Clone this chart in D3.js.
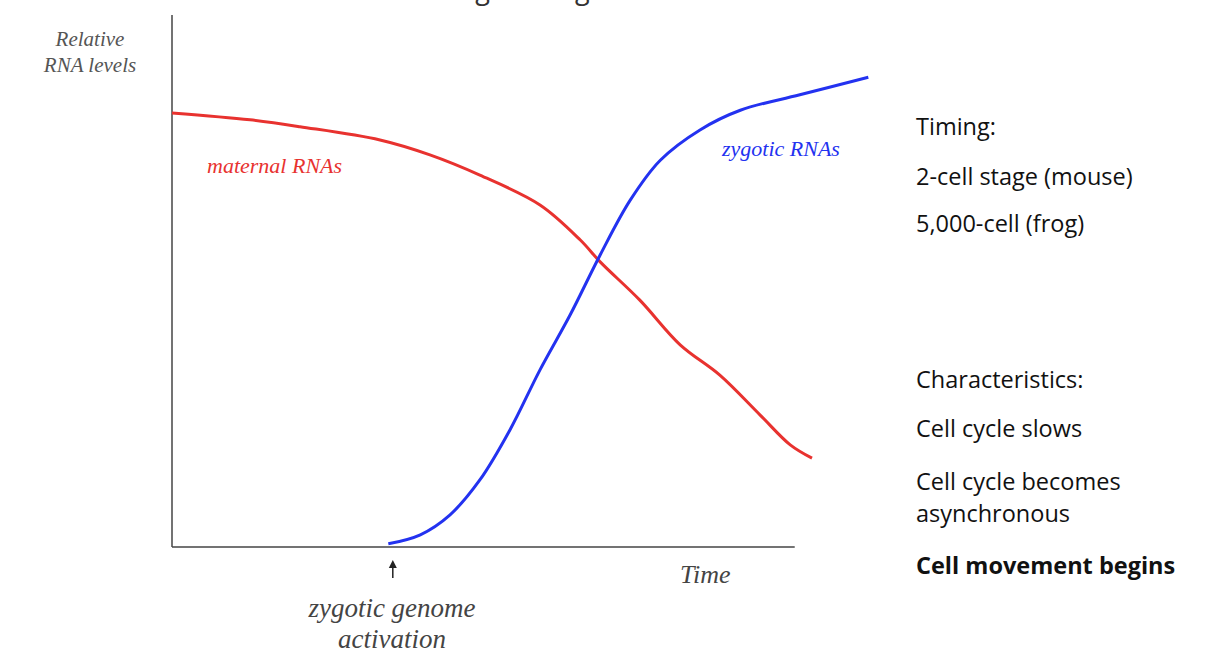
<!DOCTYPE html><html><head><meta charset="utf-8"><script src="https://d3js.org/d3.v7.min.js"></script>
<style>body{margin:0;background:#fff}</style></head><body><svg id="c" width="1215" height="664"></svg>
<script>
const maternalT=[0,1.22,2.0,3.25,4.03,4.81,5.75,6.38,6.69,7.31,7.94,8.56,9.19,9.66,10.0];
const maternalV=[81.6,80.3,79.0,76.5,73.7,69.9,64.3,57.7,53.6,46.4,38.0,32.3,24.8,19.2,16.7];
const zygoticT=[3.38,3.88,4.34,4.81,5.28,5.75,6.22,6.69,7.16,7.63,8.25,8.88,9.81,10.88];
const zygoticV=[0.6,2.3,6.0,12.6,22.0,33.3,43.6,54.9,65.2,72.7,78.4,82.1,85.0,88.3];
const sideLines=[["Timing:",135,400],["2-cell stage (mouse)",185,400],["5,000-cell (frog)",232,400],["Characteristics:",388,400],["Cell cycle slows",437,400],["Cell cycle becomes",490,400],["asynchronous",522,400],["Cell movement begins",574,700]];
const svg=d3.select("#c");
const x=d3.scaleLinear().domain([0,10]).range([172,812]);
const y=d3.scaleLinear().domain([0,100]).range([547,15]);
const serif="'Liberation Serif','DejaVu Serif',serif";
svg.append("text").attr("x",265).attr("y",-1).attr("font-family","'Open Sans',sans-serif").attr("font-size",27).attr("fill","#333").text("de novo – starting over again");
svg.append("line").attr("x1",x(0)).attr("x2",x(0)).attr("y1",y(100)).attr("y2",y(0)).attr("stroke","#444").attr("stroke-width",1.5);
svg.append("line").attr("x1",x(0)).attr("x2",x(9.73)).attr("y1",y(0)).attr("y2",y(0)).attr("stroke","#444").attr("stroke-width",1.5);
const line=d3.line().x(d=>x(d[0])).y(d=>y(d[1])).curve(d3.curveCatmullRom);
svg.append("path").attr("d",line(d3.zip(maternalT,maternalV))).attr("fill","none").attr("stroke","#e8322f").attr("stroke-width",3);
svg.append("path").attr("d",line(d3.zip(zygoticT,zygoticV))).attr("fill","none").attr("stroke","#2332f0").attr("stroke-width",3);
const it=(t,xx,yy,s,c,a)=>svg.append("text").attr("x",xx).attr("y",yy).attr("font-family",serif).attr("font-style","italic").attr("font-size",s).attr("fill",c).attr("text-anchor",a||"start").text(t);
it("Relative",90,46,21,"#555","middle");it("RNA levels",90,72,21,"#555","middle");
it("maternal RNAs",207,173,22,"#e8322f");it("zygotic RNAs",722,156,22,"#2332f0");
it("Time",680,583,26,"#444");
it("zygotic genome",392,617,27,"#444","middle");it("activation",392,648,27,"#444","middle");
const ax=x(3.45);
svg.append("line").attr("x1",ax).attr("x2",ax).attr("y1",578).attr("y2",566).attr("stroke","#222").attr("stroke-width",1.5);
svg.append("path").attr("d",`M${ax-4},568 L${ax},560 L${ax+4},568 Z`).attr("fill","#222");
svg.selectAll("text.side").data(sideLines).join("text").attr("class","side").attr("x",916).attr("y",d=>d[1]).attr("font-family","'Open Sans',sans-serif").attr("font-size",23.5).attr("font-weight",d=>d[2]).attr("fill","#111").text(d=>d[0]);
</script></body></html>
